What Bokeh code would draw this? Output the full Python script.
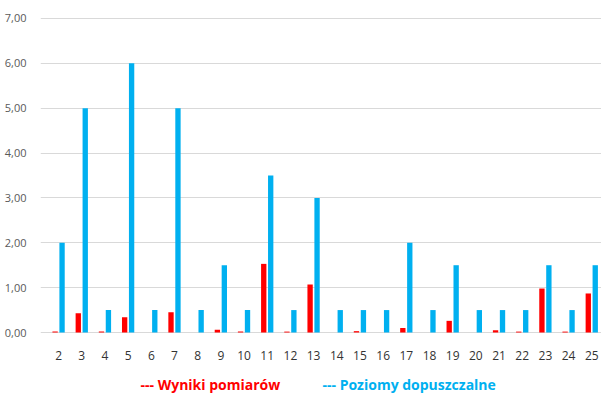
from bokeh.plotting import figure
from bokeh.models import (ColumnDataSource, Range1d, FixedTicker, CustomJSTickFormatter, Label)
from bokeh.transform import dodge
from bokeh.embed import file_html
from bokeh.resources import INLINE

# Punkty pomiarowe
points = [2, 3, 4, 5, 6, 7, 8, 9, 10, 11, 12, 13, 14, 15, 16, 17, 18, 19, 20, 21, 22, 23, 24, 25]
# Wyniki pomiarów
measured = [0.02, 0.43, 0.02, 0.34, 0.0, 0.45, 0.0, 0.06, 0.02, 1.53, 0.02, 1.07,
            0.0, 0.03, 0.0, 0.10, 0.0, 0.26, 0.0, 0.05, 0.02, 0.98, 0.02, 0.87]
# Poziomy dopuszczalne
allowed = [2.0, 5.0, 0.5, 6.0, 0.5, 5.0, 0.5, 1.5, 0.5, 3.5, 0.5, 3.0,
           0.5, 0.5, 0.5, 2.0, 0.5, 1.5, 0.5, 0.5, 0.5, 1.5, 0.5, 1.5]
y_ticks = [0, 1, 2, 3, 4, 5, 6, 7]

RED = "#FF0000"
BLUE = "#00B0F0"
FONT = "Open Sans"

idx = list(range(len(points)))
src = ColumnDataSource(dict(i=idx, measured=measured, allowed=allowed))

# the frame runs to the bottom edge so the axis labels and legend fit inside it
p = figure(width=601, height=394, output_backend="svg", toolbar_location=None,
           x_range=Range1d(-0.78, len(points) - 0.58), y_range=Range1d(-1.382, 7.022),
           min_border_left=40, min_border_right=0, min_border_top=17, min_border_bottom=0)
p.outline_line_color = None
p.background_fill_color = "white"
p.border_fill_color = "white"

p.vbar(x=dodge("i", -0.15, range=p.x_range), top="measured", width=0.23,
       source=src, color=RED, line_color=None)
p.vbar(x=dodge("i", 0.15, range=p.x_range), top="allowed", width=0.23,
       source=src, color=BLUE, line_color=None)

# osie
p.xaxis.fixed_location = 0
p.xaxis.ticker = FixedTicker(ticks=idx)
p.xaxis.major_label_overrides = {i: str(c) for i, c in zip(idx, points)}
p.xaxis.axis_line_color = None
p.xaxis.major_tick_line_color = None
p.xaxis.minor_tick_line_color = None
p.xaxis.major_label_standoff = 12
p.xaxis.major_label_text_font = FONT
p.xaxis.major_label_text_font_size = "12px"
p.xaxis.major_label_text_color = "#333333"
p.xgrid.grid_line_color = None

p.yaxis.ticker = FixedTicker(ticks=y_ticks)
p.yaxis.formatter = CustomJSTickFormatter(code="return tick.toFixed(2).replace('.', ',');")
p.yaxis.axis_line_color = None
p.yaxis.major_tick_line_color = None
p.yaxis.minor_tick_line_color = None
p.yaxis.major_label_standoff = 8
p.yaxis.major_label_text_font = FONT
p.yaxis.major_label_text_font_size = "11px"
p.yaxis.major_label_text_color = "#595959"
p.ygrid.ticker = FixedTicker(ticks=y_ticks)
p.ygrid.grid_line_color = "#D9D9D9"
p.ygrid.grid_line_width = 1

# legenda pod wykresem
for txt, col, xpos in [("--- Wyniki pomiarów", RED, 100), ("--- Poziomy dopuszczalne", BLUE, 282)]:
    p.add_layout(Label(x=xpos, y=10, x_units="screen", y_units="screen", text=txt,
                       text_color=col, text_font=FONT, text_font_style="bold",
                       text_font_size="14px", text_baseline="middle"))

open("out.html", "w").write(file_html(p, INLINE))
